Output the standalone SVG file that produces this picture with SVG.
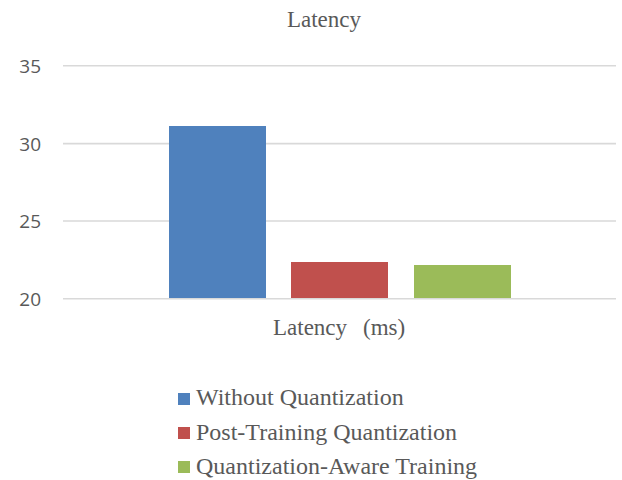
<svg xmlns="http://www.w3.org/2000/svg" width="622" height="480" viewBox="0 0 622 480">
  <style>
    .grid { stroke: #d9d9d9; stroke-width: 1.6; }
  </style>
  <rect width="622" height="480" fill="#ffffff"/>

  <text x="324" y="27" font-family="'Liberation Serif', serif" font-size="23" fill="#595959" text-anchor="middle">Latency</text>

  <!-- value axis gridlines: 35, 30, 25, 20 -->
  <g id="gridlines">
    <line class="grid" x1="63" y1="65.8" x2="616" y2="65.8"/>
    <line class="grid" x1="63" y1="143.6" x2="616" y2="143.6"/>
    <line class="grid" x1="63" y1="221" x2="616" y2="221"/>
    <line class="grid" x1="63" y1="298.8" x2="616" y2="298.8"/>
  </g>
  <g id="y-labels" font-family="'Open Sans', sans-serif" font-size="19" fill="#595959" text-anchor="end">
    <text x="41" y="73">35</text>
    <text x="41" y="151">30</text>
    <text x="41" y="228">25</text>
    <text x="41" y="306">20</text>
  </g>

  <!-- bars -->
  <g id="bar-without">
    <rect x="169" y="126" width="97" height="172" fill="#4f81bd"/>
  </g>
  <g id="bar-ptq">
    <rect x="291" y="262" width="97" height="36" fill="#c0504d"/>
  </g>
  <g id="bar-qat">
    <rect x="414" y="265" width="97" height="33" fill="#9bbb59"/>
  </g>

  <!-- category axis label -->
  <text x="273" y="335" font-family="'Liberation Serif', serif" font-size="23" fill="#595959">Latency<tspan x="363">(ms)</tspan></text>

  <!-- legend -->
  <g id="legend" font-family="'Liberation Serif', serif" font-size="24" fill="#595959">
    <rect x="178" y="393" width="12" height="12" fill="#4f81bd"/>
    <text x="196" y="405">Without Quantization</text>
    <rect x="178" y="427" width="12" height="12" fill="#c0504d"/>
    <text x="196" y="440">Post-Training Quantization</text>
    <rect x="178" y="461" width="12" height="12" fill="#9bbb59"/>
    <text x="196" y="474">Quantization-Aware Training</text>
  </g>
</svg>
